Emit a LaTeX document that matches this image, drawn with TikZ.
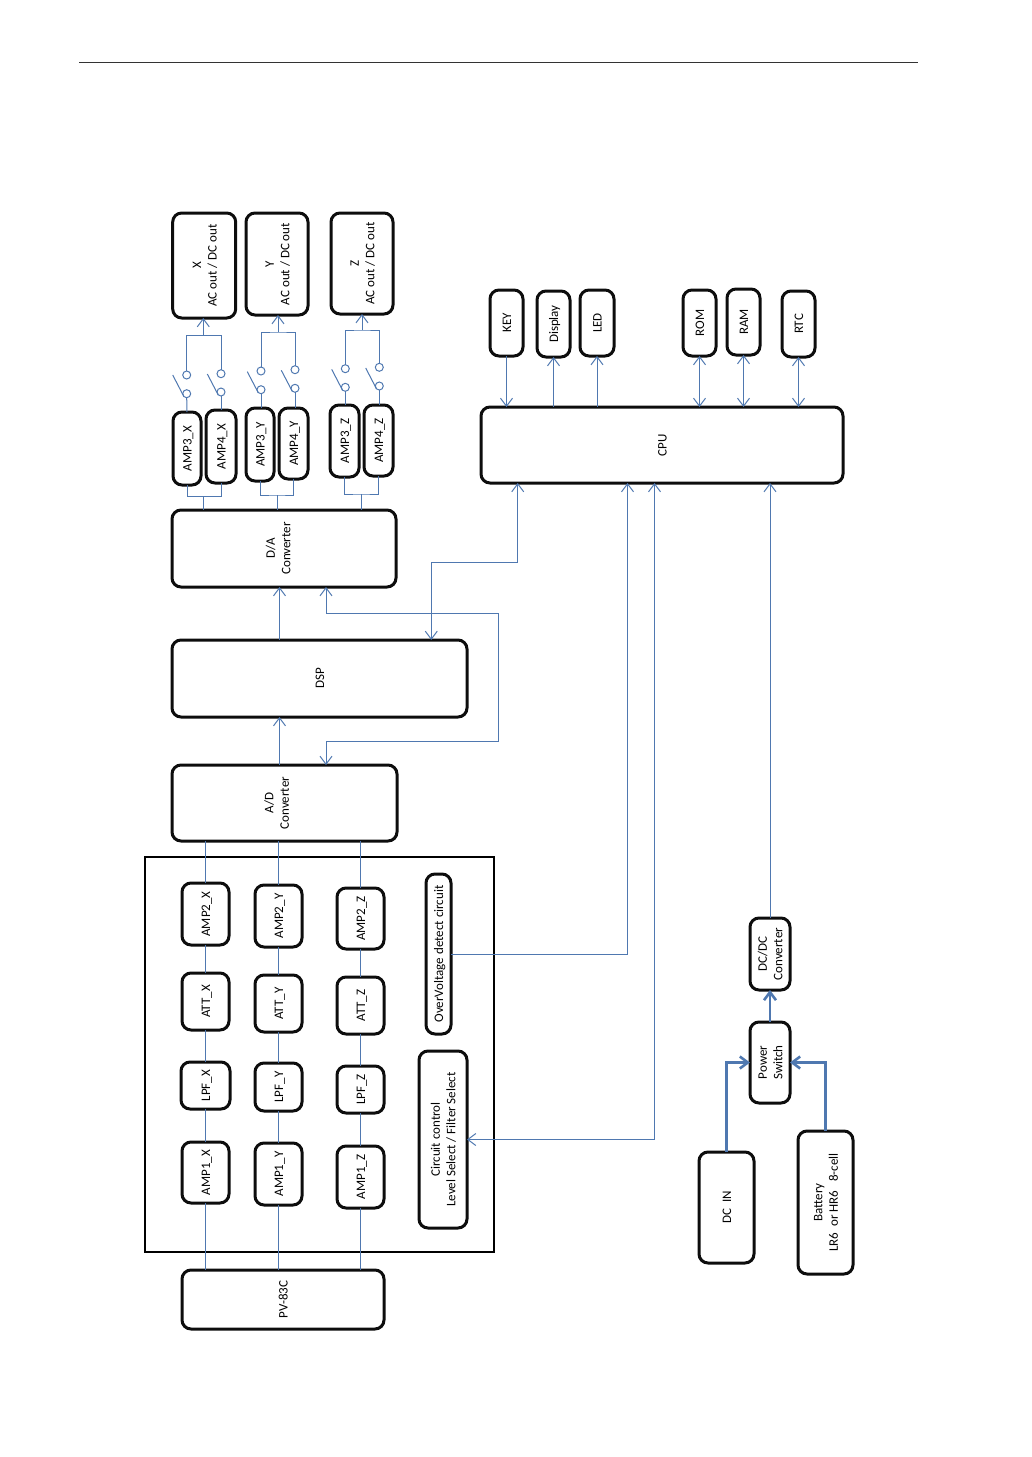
\documentclass[tikz,border=0pt]{standalone}
\usepackage{fontspec}
\setmainfont{Carlito}
\usepackage{graphicx}
\usepackage{xcolor}
\usetikzlibrary{positioning,arrows.meta}
\definecolor{wireblue}{HTML}{4F78B0}
\newcommand{\vtext}[1]{\hspace*{3pt}\rotatebox{90}{\begin{tabular}{@{}c@{}}#1\end{tabular}}}
\tikzset{
  blockbox/.style 2 args={draw=black!95,line width=3pt,rounded corners=9pt,inner sep=0pt,outer sep=0pt,
    minimum width=#1pt,minimum height=#2pt,font=\fontsize{13}{15.5}\selectfont},
  wire/.style={draw=wireblue,line width=1pt},
  powerwire/.style={draw=wireblue,line width=2.6pt},
  swpin/.style={circle,draw=wireblue,line width=1pt,minimum size=8pt,inner sep=0pt,outer sep=0pt},
}
\begin{document}
\begin{tikzpicture}[x=1pt,y=-1pt,>={Straight Barb[length=8pt,width=12pt]}]
\useasboundingbox (0,0) rectangle (1032,1457);
\coordinate (ruleL) at (79,62);
\coordinate (ruleR) at (918,62);
\draw[line width=0.8pt,black!80] (ruleL) -- (ruleR);
\node (panel) [draw=black,line width=1.4pt,minimum width=349pt,minimum height=395pt,inner sep=0pt] at (319.5,1054.5) {};
% outputs
\node (outx) [blockbox={63}{105}] at (204.2,265.5) {\vtext{X\\AC out / DC out}};
\node (outy) [blockbox={62}{102}] at (277,264) {\vtext{Y\\AC out / DC out}};
\node (outz) [blockbox={62}{101}] at (362,263.5) {\vtext{Z\\AC out / DC out}};
\node (amp3x) [blockbox={28}{73}] at (187,448.5) {\vtext{AMP3\_X}};
\node (amp4x) [blockbox={30}{73}] at (221,446.5) {\vtext{AMP4\_X}};
\node (amp3y) [blockbox={28}{73}] at (260,444.5) {\vtext{AMP3\_Y}};
\node (amp4y) [blockbox={29}{71}] at (293.5,443.5) {\vtext{AMP4\_Y}};
\node (amp3z) [blockbox={29}{72}] at (344.5,441) {\vtext{AMP3\_Z}};
\node (amp4z) [blockbox={29}{71}] at (378.5,440.5) {\vtext{AMP4\_Z}};
\node (da) [blockbox={224}{77}] at (284,548.5) {\vtext{D/A\\Converter}\hspace*{12pt}};
\node (dsp) [blockbox={295}{77}] at (319.5,678.5) {\vtext{DSP}};
\node (ad) [blockbox={225}{76}] at (284.5,803) {\vtext{A/D\\Converter}\hspace*{16pt}};
% input stages
\node (amp2x) [blockbox={47}{62}] at (205.5,914) {\vtext{AMP2\_X}};
\node (attx) [blockbox={47}{57}] at (205.5,1001.5) {\vtext{ATT\_X}};
\node (lpfx) [blockbox={49}{47}] at (205.5,1085.5) {\vtext{LPF\_X}};
\node (amp1x) [blockbox={47}{61}] at (205.5,1172.5) {\vtext{AMP1\_X}};
\node (amp2y) [blockbox={47}{62}] at (278.5,916) {\vtext{AMP2\_Y}};
\node (atty) [blockbox={47}{57}] at (278.5,1003.5) {\vtext{ATT\_Y}};
\node (lpfy) [blockbox={47}{48}] at (278.5,1087) {\vtext{LPF\_Y}};
\node (amp1y) [blockbox={47}{62}] at (278.5,1174) {\vtext{AMP1\_Y}};
\node (amp2z) [blockbox={47}{61}] at (360.5,918.5) {\vtext{AMP2\_Z}};
\node (attz) [blockbox={47}{57}] at (360.5,1005.5) {\vtext{ATT\_Z}};
\node (lpfz) [blockbox={47}{47}] at (360.5,1089.5) {\vtext{LPF\_Z}};
\node (amp1z) [blockbox={47}{62}] at (360.5,1177) {\vtext{AMP1\_Z}};
\node (ovd) [blockbox={25}{160}] at (438.5,954) {\vtext{OverVoltage detect circuit}};
\node (ctrl) [blockbox={48}{177}] at (443,1139.5) {\vtext{Circuit control\\Level Select / Filter Select}};
\node (pv) [blockbox={202}{59}] at (283,1299.5) {\vtext{PV-83C}};
% power
\node (dcdc) [blockbox={40}{72}] at (770,954) {\vtext{DC/DC\\Converter}};
\node (pwr) [blockbox={40}{81}] at (770,1062.5) {\vtext{Power\\Switch}};
\node (dcin) [blockbox={55}{111}] at (726.5,1207.5) {\vtext{DC\ \ IN}};
\node (batt) [blockbox={55}{143}] at (825.5,1202.5) {\vtext{Battery\\LR6\ \ or HR6\ \ \ 8-cell}};
% cpu
\node (cpu) [blockbox={362}{76}] at (662,445) {\vtext{CPU}};
\node (key) [blockbox={33}{66}] at (506.5,323) {\vtext{KEY}};
\node (disp) [blockbox={33}{66}] at (553.5,324) {\vtext{Display}};
\node (led) [blockbox={34}{66}] at (597,323) {\vtext{LED}};
\node (rom) [blockbox={33}{66}] at (699.5,323) {\vtext{ROM}};
\node (ram) [blockbox={33}{66}] at (743.5,322) {\vtext{RAM}};
\node (rtc) [blockbox={33}{66}] at (798.5,324) {\vtext{RTC}};
% switches
\node (s3xa) [swpin] at (186.7,375) {};
\node (s3xb) [swpin] at (186.7,393.7) {};
\node (s4xa) [swpin] at (221,373.7) {};
\node (s4xb) [swpin] at (221,392) {};
\node (s3ya) [swpin] at (261,371) {};
\node (s3yb) [swpin] at (261,389.7) {};
\node (s4ya) [swpin] at (295,369.7) {};
\node (s4yb) [swpin] at (295,388.3) {};
\node (s3za) [swpin] at (345.3,368.7) {};
\node (s3zb) [swpin] at (345.3,387.3) {};
\node (s4za) [swpin] at (379.3,367.3) {};
\node (s4zb) [swpin] at (379.3,386) {};
\coordinate (blade3x) at (172.7,375);
\coordinate (blade4x) at (207.3,374);
\coordinate (blade3y) at (247.3,371.7);
\coordinate (blade4y) at (281.3,370.3);
\coordinate (blade3z) at (331.7,369.3);
\coordinate (blade4z) at (365.7,368);
\draw[wire] (blade3x) -- (s3xb.south west);
\draw[wire] (blade4x) -- (s4xb.south west);
\draw[wire] (blade3y) -- (s3yb.south west);
\draw[wire] (blade4y) -- (s4yb.south west);
\draw[wire] (blade3z) -- (s3zb.south west);
\draw[wire] (blade4z) -- (s4zb.south west);
\draw[wire] (amp3x.north) -- (s3xb.south);
\draw[wire] (amp4x.north) -- (s4xb.south);
\draw[wire] (amp3y.north -| s3yb) -- (s3yb.south);
\draw[wire] (amp4y.north -| s4yb) -- (s4yb.south);
\draw[wire] (amp3z.north -| s3zb) -- (s3zb.south);
\draw[wire] (amp4z.north -| s4zb) -- (s4zb.south);
% collectors above the switches
\coordinate (topx) at (203.3,335.7);
\coordinate (topy) at (278,332);
\coordinate (topz) at (362,330);
\draw[wire] (s3xa.north) |- (topx) -| (s4xa.north);
\draw[wire] (s3ya.north) |- (topy) -| (s4ya.north);
\draw[wire] (s3za.north) |- (topz) -| (s4za.north);
\draw[wire,->] (topx) -- (outx.south -| topx);
\draw[wire,->] (topy) -- (outy.south -| topy);
\draw[wire,->] (topz) -- (outz.south -| topz);
% collectors below the amps
\coordinate (botx) at (203.7,496.7);
\coordinate (boty) at (277.3,495);
\coordinate (botz) at (361.3,494);
\draw[wire] (amp3x.south) |- (botx) -| (amp4x.south);
\draw[wire] (amp3y.south) |- (boty) -| (amp4y.south);
\draw[wire] (amp3z.south) |- (botz) -| (amp4z.south);
\draw[wire] (botx) -- (da.north -| botx);
\draw[wire] (boty) -- (da.north -| boty);
\draw[wire] (botz) -- (da.north -| botz);
% signal chains
\draw[wire] (pv.north -| amp1x) -- (amp1x.south);
\draw[wire] (amp1x.north) -- (lpfx.south);
\draw[wire] (lpfx.north) -- (attx.south);
\draw[wire] (attx.north) -- (amp2x.south);
\draw[wire] (amp2x.north) -- (ad.south -| amp2x);
\draw[wire] (pv.north -| amp1y) -- (amp1y.south);
\draw[wire] (amp1y.north) -- (lpfy.south);
\draw[wire] (lpfy.north) -- (atty.south);
\draw[wire] (atty.north) -- (amp2y.south);
\draw[wire] (amp2y.north) -- (ad.south -| amp2y);
\draw[wire] (pv.north -| amp1z) -- (amp1z.south);
\draw[wire] (amp1z.north) -- (lpfz.south);
\draw[wire] (lpfz.north) -- (attz.south);
\draw[wire] (attz.north) -- (amp2z.south);
\draw[wire] (amp2z.north) -- (ad.south -| amp2z);
% data path
\coordinate (dataline) at (279.5,700);
\draw[wire,->] (ad.north -| dataline) -- (dsp.south -| dataline);
\draw[wire,->] (dsp.north -| dataline) -- (da.south -| dataline);
\coordinate (syncda) at (326,613.3);
\coordinate (syncne) at (498.3,613.3);
\coordinate (syncse) at (498.3,741);
\coordinate (syncad) at (326,741);
\draw[wire,<->] (da.south -| syncda) -- (syncda) -- (syncne) -- (syncse) -- (syncad) -- (ad.north -| syncad);
\coordinate (cpubus) at (517.7,562.3);
\coordinate (dspbus) at (431.3,562.3);
\draw[wire,<->] (cpu.south -| cpubus) -- (cpubus) -- (dspbus) -- (dsp.north -| dspbus);
\coordinate (ovbus) at (627.5,700);
\coordinate (ctrlbus) at (654.5,700);
\draw[wire,->] (ovd.east) -| (cpu.south -| ovbus);
\draw[wire,<->] (ctrl.east) -| (cpu.south -| ctrlbus);
\draw[wire,->] (dcdc.north) -- (cpu.south -| dcdc);
% cpu peripherals
\draw[wire,->] (key.south) -- (cpu.north -| key);
\draw[wire,->] (cpu.north -| disp) -- (disp.south);
\draw[wire,->] (cpu.north -| led) -- (led.south);
\draw[wire,<->] (cpu.north -| rom) -- (rom.south);
\draw[wire,<->] (cpu.north -| ram) -- (ram.south);
\draw[wire,<->] (cpu.north -| rtc) -- (rtc.south);
% power path
\draw[powerwire,->] (pwr.north) -- (dcdc.south);
\draw[powerwire,->] (dcin.north) |- (pwr.west);
\draw[powerwire,->] (batt.north) |- (pwr.east);
\end{tikzpicture}
\end{document}
